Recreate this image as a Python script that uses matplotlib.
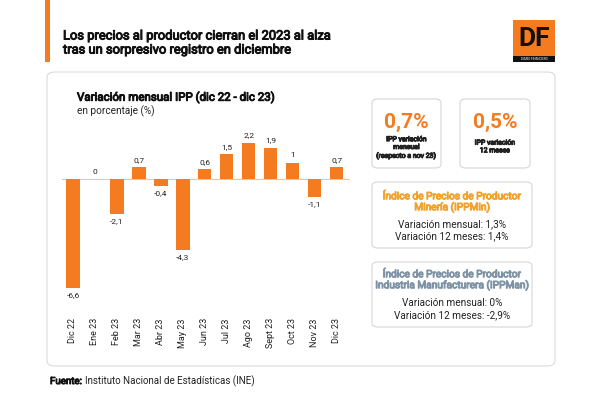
import matplotlib.pyplot as plt
import matplotlib.patheffects as pe
from matplotlib.patches import FancyBboxPatch, Rectangle

months = ["Dic 22", "Ene 23", "Feb 23", "Mar 23", "Abr 23", "May 23", "Jun 23",
          "Jul 23", "Ago 23", "Sept 23", "Oct 23", "Nov 23", "Dic 23"]
ipp = [-6.6, 0, -2.1, 0.7, -0.4, -4.3, 0.6, 1.5, 2.2, 1.9, 1, -1.1, 0.7]

kpi_values = ["0,7%", "0,5%"]
kpi_labels = ["IPP variación\nmensual\n(respecto a nov 23)", "IPP variación\n12 meses"]
min_lines = ["Variación mensual: 1,3%", "Variación 12 meses: 1,4%"]
man_lines = ["Variación mensual: 0%", "Variación 12 meses: -2,9%"]

ORANGE = "#F47B20"
plt.rcParams["font.family"] = ["Liberation Sans Narrow", "Roboto", "DejaVu Sans"]

W, H = 600, 394
fig = plt.figure(figsize=(6, 3.94), dpi=100)
fig.patch.set_facecolor("white")


def px(x, y):
    return x / W, 1 - y / H


def box(x0, y0, x1, y1, ec="#d6d6d6", r=6):
    fx, fy = px(x0, y1)
    p = FancyBboxPatch((fx, fy), (x1 - x0) / W, (y1 - y0) / H,
                       boxstyle=f"round,pad=0,rounding_size={r / W}",
                       transform=fig.transFigure, fc="white", ec=ec, lw=0.8, zorder=0)
    fig.patches.append(p)


def bold(color, w=0.7):
    # the narrow face has no bold cut, so thicken it with a stroke
    return [pe.withStroke(linewidth=w, foreground=color)]


def txt(x, y, s, heavy=False, **kw):
    t = fig.text(*px(x, y), s, zorder=3, **kw)
    if heavy:
        t.set_path_effects(bold(kw.get("color", "black")))
    return t


# header
fig.patches.append(Rectangle(px(45, 62), 5 / W, 62 / H, transform=fig.transFigure,
                             fc=ORANGE, ec="none"))
txt(63, 43, "Los precios al productor cierran el 2023 al alza\ntras un sorpresivo registro en diciembre",
    heavy=True, fontsize=9.3, va="center", ha="left", linespacing=1.1, color="#111111")

# logo
fig.patches.append(Rectangle(px(513, 62), 42 / W, 42 / H, transform=fig.transFigure,
                             fc=ORANGE, ec="none"))
fig.patches.append(Rectangle(px(513, 62), 42 / W, 6 / H, transform=fig.transFigure,
                             fc="#111111", ec="none"))
txt(534, 39, "DF", fontsize=19, fontweight="bold", ha="center", va="center", color="#111111")
txt(534, 59, "DIARIO FINANCIERO", fontsize=2.2, ha="center", va="center", color="white")

# outer panel
box(47, 72, 555, 366, ec="#dcdcdc", r=8)

txt(77, 97, "Variación mensual IPP (dic 22 - dic 23)", heavy=True, fontsize=8.3,
    va="center", color="#111111")
txt(77, 111, "en porcentaje (%)", fontsize=7.2, va="center", color="#222222")

# bar chart
scale = 16.5
ymin, ymax = -6.75, 2.7
top = 179 - ymax * scale
bottom = 179 - ymin * scale
left, right = 62, 350
ax = fig.add_axes([left / W, 1 - bottom / H, (right - left) / W, (bottom - top) / H])
ax.set_zorder(2)
x = list(range(len(months)))
ax.bar(x, ipp, width=0.6, color=ORANGE, zorder=2)
ax.axhline(0, color="#cccccc", lw=0.8, zorder=1)
ax.set_xlim(-0.5, 12.6)
ax.set_ylim(ymin, ymax)
for xi, v in zip(x, ipp):
    lab = f"{v:g}".replace(".", ",")
    if v >= 0:
        ax.annotate(lab, (xi, v), xytext=(0, 3), textcoords="offset points",
                    ha="center", va="bottom", fontsize=6, color="#222222")
    else:
        ax.annotate(lab, (xi, v), xytext=(0, -3), textcoords="offset points",
                    ha="center", va="top", fontsize=6, color="#222222")
ax.set_xticks(x)
ax.set_xticklabels(months, rotation=90, fontsize=6.5, color="#222222")
ax.tick_params(axis="x", length=0, pad=20)
ax.set_yticks([])
for s in ax.spines.values():
    s.set_visible(False)
ax.patch.set_alpha(0)

# KPI cards
for (x0, x1), val, lab, ly in zip([(372, 441), (460, 530)], kpi_values, kpi_labels, [148, 147]):
    box(x0, 99, x1, 168, ec="#d6d6d6", r=6)
    cx = (x0 + x1) / 2
    txt(cx, 122, val, fontsize=15, fontweight="bold", ha="center", va="center", color=ORANGE)
    txt(cx, ly, lab, heavy=True, fontsize=5, ha="center", va="center",
        color="#222222", linespacing=1.15)

box(372, 182, 532, 248)
txt(452, 202, "Índice de Precios de Productor\nMinería (IPPMin)", heavy=True, fontsize=7.3,
    ha="center", va="center", color="#F2A12A", linespacing=1.0)
txt(452, 230.5, "\n".join(min_lines), fontsize=7.2, ha="center", va="center",
    color="#222222", linespacing=1.2)

box(372, 262, 532, 327)
txt(452, 280, "Índice de Precios de Productor\nIndustria Manufacturera (IPPMan)", heavy=True,
    fontsize=7.3, ha="center", va="center", color="#7F93A6", linespacing=1.0)
txt(452, 309, "\n".join(man_lines), fontsize=7.2, ha="center", va="center",
    color="#222222", linespacing=1.2)

# footer
f1 = txt(50, 381, "Fuente:", heavy=True, fontsize=7, va="center", color="#111111")
r = fig.canvas.get_renderer()
bb = f1.get_window_extent(r)
txt(bb.x1 + 3, 381, "Instituto Nacional de Estadísticas (INE)", fontsize=7, va="center",
    color="#222222")

fig.savefig("out.png", dpi=100)
